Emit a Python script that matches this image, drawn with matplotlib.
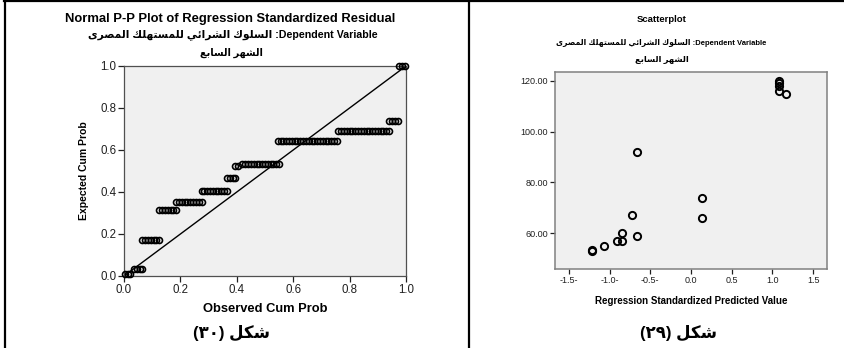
import numpy as np
import matplotlib
matplotlib.use('Agg')
import matplotlib.pyplot as plt
from matplotlib.lines import Line2D

plt.rcParams['font.family'] = ['Liberation Sans', 'DejaVu Sans']

# Arabic presentation forms: isolated, final, initial, medial
FORMS = {
    '\u0627': ('\uFE8D', '\uFE8E', None, None),
    '\u0628': ('\uFE8F', '\uFE90', '\uFE91', '\uFE92'),
    '\u062A': ('\uFE95', '\uFE96', '\uFE97', '\uFE98'),
    '\u0626': ('\uFE89', '\uFE8A', '\uFE8B', '\uFE8C'),
    '\u0631': ('\uFEAD', '\uFEAE', None, None),
    '\u0633': ('\uFEB1', '\uFEB2', '\uFEB3', '\uFEB4'),
    '\u0634': ('\uFEB5', '\uFEB6', '\uFEB7', '\uFEB8'),
    '\u0635': ('\uFEB9', '\uFEBA', '\uFEBB', '\uFEBC'),
    '\u0639': ('\uFEC9', '\uFECA', '\uFECB', '\uFECC'),
    '\u0643': ('\uFED9', '\uFEDA', '\uFEDB', '\uFEDC'),
    '\u0644': ('\uFEDD', '\uFEDE', '\uFEDF', '\uFEE0'),
    '\u0645': ('\uFEE1', '\uFEE2', '\uFEE3', '\uFEE4'),
    '\u0647': ('\uFEE9', '\uFEEA', '\uFEEB', '\uFEEC'),
    '\u0648': ('\uFEED', '\uFEEE', None, None),
    '\u064A': ('\uFEF1', '\uFEF2', '\uFEF3', '\uFEF4'),
    '\u0649': ('\uFEEF', '\uFEF0', None, None),
}


def arabic(s):
    # join letters and put them in visual (right-to-left) order
    out = []
    for i, c in enumerate(s):
        if c not in FORMS:
            out.append(c)
            continue
        iso, fin, ini, med = FORMS[c]
        prev = s[i - 1] if i > 0 else ''
        nxt = s[i + 1] if i + 1 < len(s) else ''
        jp = prev in FORMS and FORMS[prev][2] is not None
        jn = nxt in FORMS and ini is not None
        if jp and jn:
            out.append(med)
        elif jp:
            out.append(fin)
        elif jn:
            out.append(ini)
        else:
            out.append(iso)
    return ''.join(out)[::-1]


dep_var = 'السلوك الشرائي للمستهلك المصرى'
month = 'الشهر السابع'
fig_word = 'شكل'

# P-P plot: expected cum prob of each tied group and its observed cum probs
pp_expected = [0.010, 0.033, 0.171, 0.312, 0.352, 0.404, 0.469, 0.523,
               0.532, 0.642, 0.691, 0.737, 1.0]
pp_observed = [
    [0.005, 0.015, 0.02],
    [0.035, 0.045, 0.055, 0.065],
    [0.065, 0.075, 0.085, 0.095, 0.105, 0.115, 0.125],
    [0.125, 0.135, 0.145, 0.155, 0.165, 0.175, 0.185],
    [0.185, 0.195, 0.205, 0.215, 0.225, 0.235, 0.245, 0.255, 0.265, 0.275],
    [0.275, 0.285, 0.295, 0.305, 0.315, 0.325, 0.335, 0.345, 0.355, 0.365],
    [0.365, 0.375, 0.385, 0.395],
    [0.395, 0.405],
    [0.42, 0.43, 0.44, 0.45, 0.46, 0.47, 0.48, 0.49, 0.50, 0.51, 0.52, 0.53,
     0.54, 0.55],
    [0.545, 0.555, 0.565, 0.575, 0.585, 0.595, 0.605, 0.615, 0.625, 0.635,
     0.645, 0.655, 0.665, 0.675, 0.685, 0.695, 0.705, 0.715, 0.725, 0.735,
     0.745, 0.755],
    [0.76, 0.77, 0.78, 0.79, 0.80, 0.81, 0.82, 0.83, 0.84, 0.85, 0.86, 0.87,
     0.88, 0.89, 0.90, 0.91, 0.92, 0.93, 0.94],
    [0.94, 0.95, 0.96, 0.97],
    [0.975, 0.985, 0.995],
]
pp_ticks = [0.0, 0.2, 0.4, 0.6, 0.8, 1.0]

# scatterplot: standardized predicted value vs dependent variable
sc_x = [1.08, 1.08, 1.08, 1.08, 1.17, -0.66, 0.13, 0.13, -0.72, -0.85,
        -0.66, -0.91, -0.85, -1.07, -1.22, -1.22]
sc_y = [120, 119, 118, 116, 115, 92, 74, 66, 67, 60, 59, 57, 57, 55, 53, 53.5]
sc_xticks = [-1.5, -1.0, -0.5, 0.0, 0.5, 1.0, 1.5]
sc_xlabels = ['-1.5-', '-1.0-', '-0.5-', '0.0', '0.5', '1.0', '1.5']
sc_yticks = [60, 80, 100, 120]
sc_ylabels = ['60.00', '80.00', '100.00', '120.00']

W, H = 844, 348
fig = plt.figure(figsize=(W / 100, H / 100), dpi=100)


def box(x0, y0, x1, y1):
    return [x0 / W, 1 - y1 / H, (x1 - x0) / W, (y1 - y0) / H]


# ---- left: Normal P-P plot ----
ax1 = fig.add_axes(box(124, 66, 406, 276))
ax1.set_facecolor('#f0f0f0')
ax1.plot([0, 1], [0, 1], color='black', lw=1.0, zorder=2)
for yv, xs in zip(pp_expected, pp_observed):
    ax1.plot(xs, [yv] * len(xs), 'o', mfc='none', mec='black', ms=4.3,
             mew=1.2, clip_on=False, zorder=3)
ax1.set_xlim(0, 1)
ax1.set_ylim(0, 1)
ax1.set_xticks(pp_ticks)
ax1.set_yticks(pp_ticks)
ax1.set_xticklabels([f'{t:.1f}' for t in pp_ticks])
ax1.set_yticklabels([f'{t:.1f}' for t in pp_ticks])
ax1.tick_params(direction='out', length=4, width=0.9, labelsize=8.3,
                colors='#202020', pad=1.5)
for s in ax1.spines.values():
    s.set_color('#505050')
    s.set_linewidth(0.9)
ax1.set_xlabel('Observed Cum Prob', fontsize=9.3, fontweight='bold',
               labelpad=5)
ax1.set_ylabel('Expected Cum Prob', fontsize=7.5, fontweight='bold',
               labelpad=8)

fig.text(230 / W, 1 - 19 / H,
         'Normal P-P Plot of Regression Standardized Residual',
         ha='center', va='center', fontsize=9.4, fontweight='bold')
fig.text(233 / W, 1 - 35 / H, arabic(dep_var) + ' :Dependent Variable',
         ha='center', va='center', fontsize=7.7, fontweight='bold')
fig.text(231 / W, 1 - 53 / H, arabic(month), ha='center', va='center',
         fontsize=7, fontweight='bold')

# ---- right: scatterplot ----
ax2 = fig.add_axes(box(555, 72, 827, 269))
ax2.set_facecolor('#f0f0f0')
ax2.plot(sc_x, sc_y, 'o', mfc='none', mec='black', ms=5.2, mew=1.4,
         clip_on=False)
ax2.set_xlim(-1.67, 1.67)
ax2.set_ylim(45.9, 123.5)
ax2.set_xticks(sc_xticks)
ax2.set_xticklabels(sc_xlabels)
ax2.set_yticks(sc_yticks)
ax2.set_yticklabels(sc_ylabels)
ax2.tick_params(direction='out', length=3.5, width=0.9, labelsize=6.5,
                colors='#202020', pad=1.5)
for s in ax2.spines.values():
    s.set_color('#808080')
    s.set_linewidth(1.1)
ax2.set_xlabel('Regression Standardized Predicted Value', fontsize=7,
               fontweight='bold', labelpad=8)

fig.text(662 / W, 1 - 20 / H, 'Scatterplot', ha='center', va='center',
         fontsize=6.8, fontweight='bold')
fig.text(661 / W, 1 - 43 / H, arabic(dep_var) + ' :Dependent Variable',
         ha='center', va='center', fontsize=5.5, fontweight='bold')
fig.text(662 / W, 1 - 60 / H, arabic(month), ha='center', va='center',
         fontsize=6.0, fontweight='bold')

# ---- captions ----
fig.text(231 / W, 1 - 333 / H, '(٣٠) ' + arabic(fig_word), ha='center',
         va='center', fontsize=12, fontweight='bold')
fig.text(679 / W, 1 - 333 / H, '(٢٩) ' + arabic(fig_word), ha='center',
         va='center', fontsize=12, fontweight='bold')

# ---- table borders ----
for xs, ys in [([4 / W, 1], [1 - 1 / H] * 2),
               ([4.5 / W] * 2, [0, 1 - 1 / H]),
               ([469 / W] * 2, [0, 1 - 1 / H])]:
    fig.add_artist(Line2D(xs, ys, color='black', lw=1.6))

fig.savefig('out.png', dpi=100)
